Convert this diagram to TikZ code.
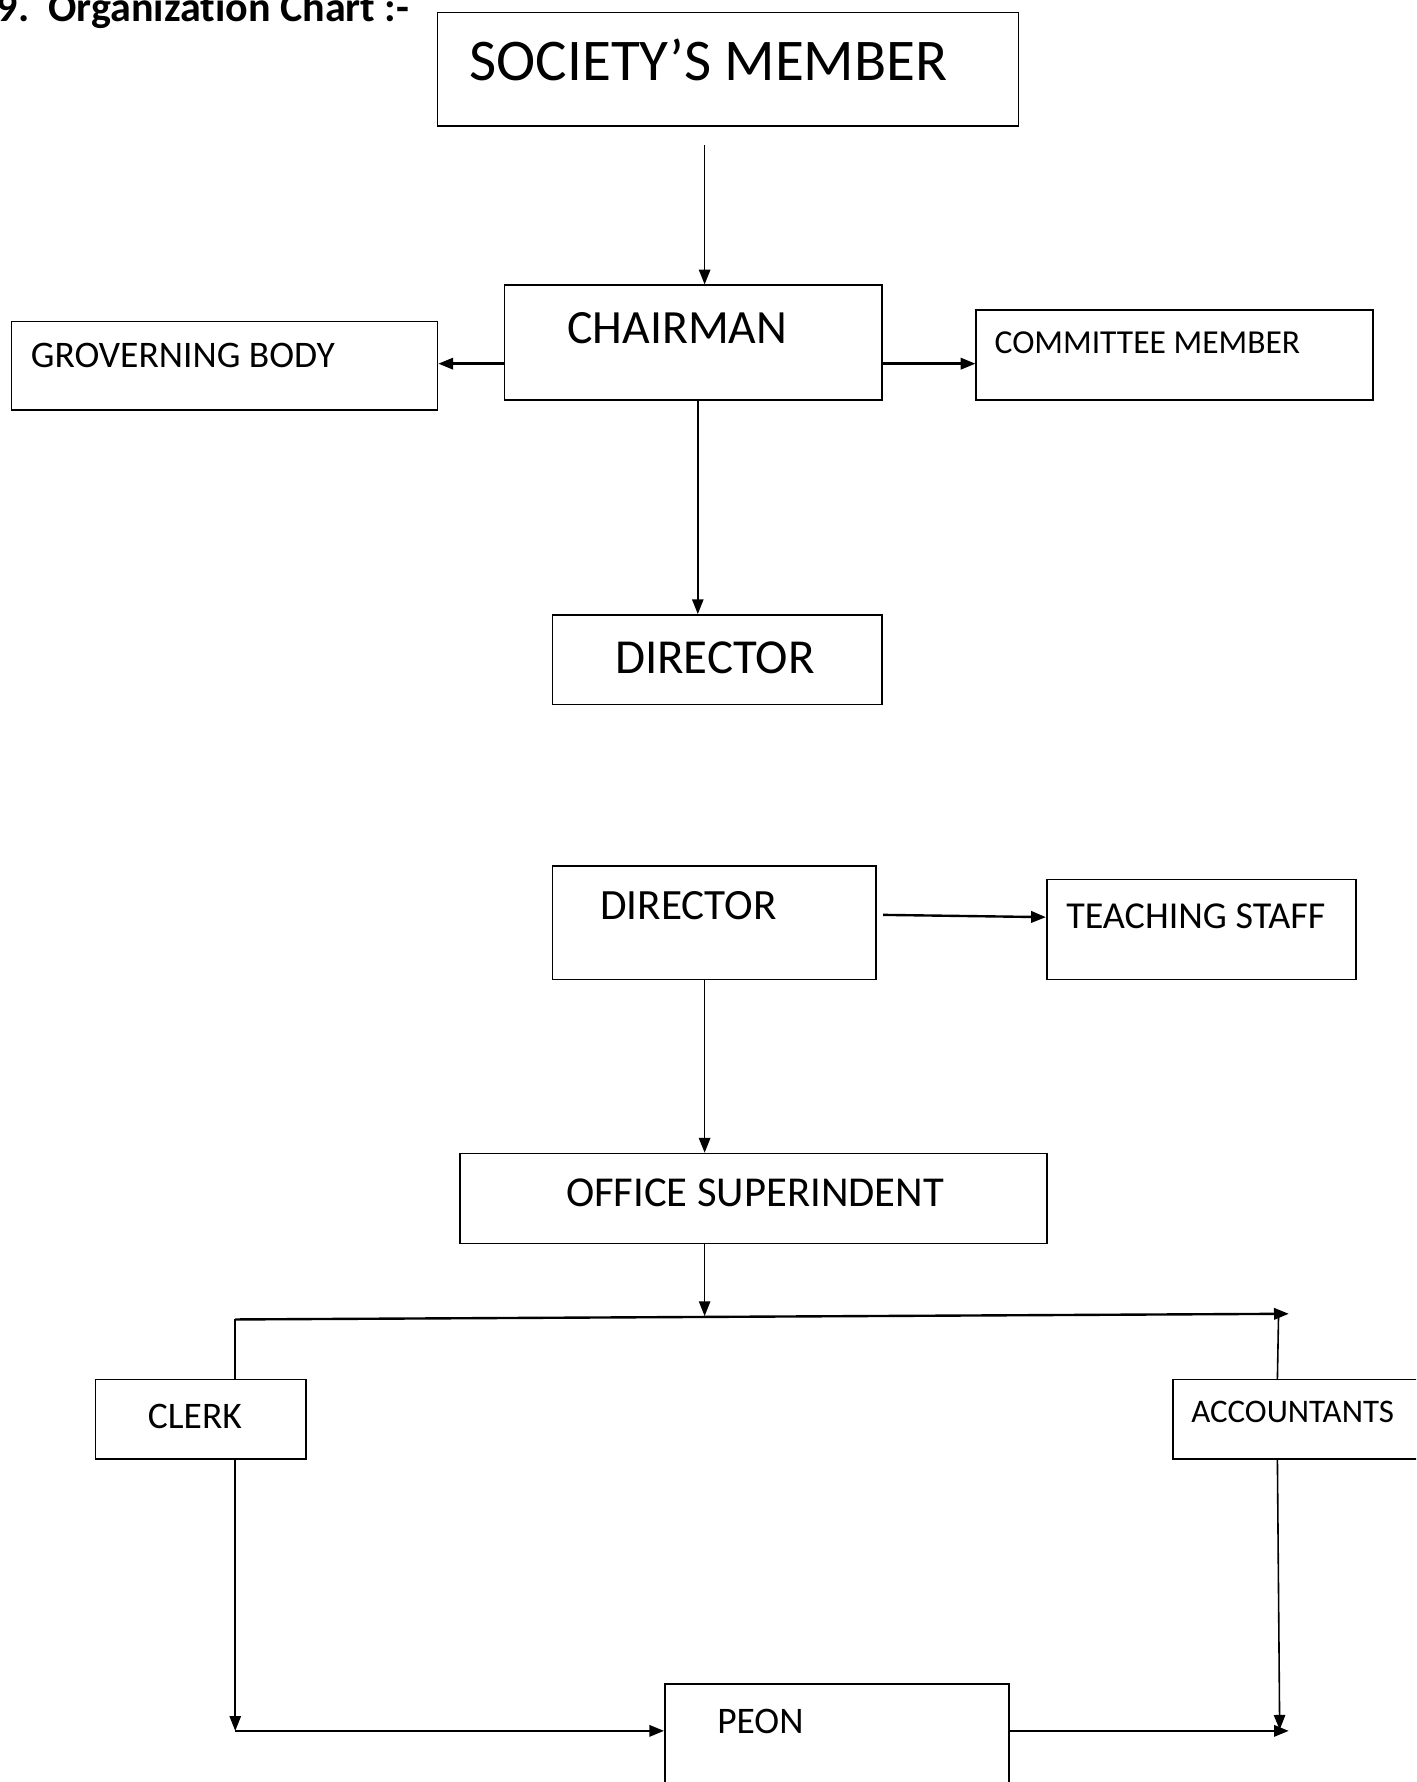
\documentclass[tikz,border=0pt]{standalone}
\usepackage{fontspec}
\setmainfont{Carlito}[Ligatures=NoCommon]
\usetikzlibrary{arrows.meta}
\tikzset{
  box/.style={draw=black, line width=1.4pt, inner sep=0pt, rectangle},
  lbl/.style={anchor=base west, inner sep=0pt},
  conn/.style={line width=1.4pt},
  thick conn/.style={line width=2.1pt},
  arr/.style={-{Triangle[length=13pt,width=10pt]}},
}
\newcommand{\fs}[1]{\fontsize{#1}{#1}\selectfont}
\begin{document}
\begin{tikzpicture}[x=1pt,y=-1pt]
\useasboundingbox (0,0) rectangle (1246,1568);
\clip (0,0) rectangle (1246,1568);
% title
\node[lbl, font=\bfseries\fs{37}] (title) at (-3,19) {9.\ \ Organization Chart :-};
% boxes
\node[box, minimum width=511pt, minimum height=100pt] (soc) at (640.5,61) {};
\node[box, minimum width=332pt, minimum height=101pt] (chair) at (610,301.5) {};
\node[box, minimum width=375pt, minimum height=78pt] (gov) at (197.5,322) {};
\node[box, minimum width=349pt, minimum height=79pt] (com) at (1033.5,312.5) {};
\node[box, minimum width=290pt, minimum height=79pt] (dir1) at (631,580.5) {};
\node[box, minimum width=285pt, minimum height=100pt] (dir2) at (628.5,812) {};
\node[box, minimum width=272pt, minimum height=88pt] (teach) at (1057,818) {};
\node[box, minimum width=516pt, minimum height=79pt] (office) at (663,1054.5) {};
\node[box, minimum width=185pt, minimum height=70pt] (clerk) at (176.5,1249) {};
\node[box, minimum width=230pt, minimum height=70pt] (acc) at (1147,1249) {};
\node[box, minimum width=303pt, minimum height=120pt] (peon) at (736.5,1542) {};
% labels
\node[lbl, font=\fs{52}] (socT) at (413,71) {SOCIETY’S MEMBER};
\node[lbl, font=\fs{42}] (chairT) at (499,302) {CHAIRMAN};
\node[lbl, font=\fs{33}] (govT) at (27,323) {GROVERNING BODY};
\node[lbl, font=\fs{29.5}] (comT) at (875,311) {COMMITTEE MEMBER};
\node[lbl, font=\fs{43}] (dir1T) at (541,593) {DIRECTOR};
\node[lbl, font=\fs{38}] (dir2T) at (528,809) {DIRECTOR};
\node[lbl, font=\fs{33.5}] (teachT) at (938,817) {TEACHING STAFF};
\node[lbl, font=\fs{37.5}] (officeT) at (498,1062) {OFFICE SUPERINDENT};
\node[lbl, font=\fs{33}] (clerkT) at (130,1257) {CLERK};
\node[lbl, font=\fs{29}] (accT) at (1048,1252) {ACCOUNTANTS};
\node[lbl, font=\fs{33}] (peonT) at (631,1525) {PEON};
% helper coordinates
\coordinate (c1) at (620,128);
\coordinate (y320) at (0,320);
\coordinate (x614) at (614,0);
\coordinate (x620) at (620,0);
\coordinate (d2s) at (777,805);
\coordinate (y807) at (0,807);
\coordinate (busm) at (620,1158);
\coordinate (busl) at (207,1161);
\coordinate (busr) at (1134,1156);
\coordinate (x207) at (207,0);
\coordinate (accup) at (1125,1157);
\coordinate (x1124) at (1124,0);
\coordinate (botl) at (207,1523);
\coordinate (botr) at (1134,1523);
\coordinate (accdn) at (1126,1522);
\coordinate (y1523) at (0,1523);
% connectors
\draw[conn, arr] (c1) -- (c1 |- chair.north);
\draw[thick conn, arr] (chair.west |- y320) -- (gov.east |- y320);
\draw[thick conn, arr] (chair.east |- y320) -- (com.west |- y320);
\draw[conn, arr] (x614 |- chair.south) -- (x614 |- dir1.north);
\draw[thick conn, arr] (d2s) -- (teach.west |- y807);
\draw[conn, arr] (x620 |- dir2.south) -- (x620 |- office.north);
\draw[conn, arr] (x620 |- office.south) -- (busm);
\draw[thick conn, arr] (busl) -- (busr);
\draw[conn] (x207 |- clerk.north) -- (busl);
\draw[conn] (x1124 |- acc.north) -- (accup);
\draw[conn, arr] (x207 |- clerk.south) -- (botl);
\draw[thick conn, arr] (botl) -- (peon.west |- y1523);
\draw[thick conn, arr] (peon.east |- y1523) -- (botr);
\draw[conn, arr] (x1124 |- acc.south) -- (accdn);
\end{tikzpicture}
\end{document}
